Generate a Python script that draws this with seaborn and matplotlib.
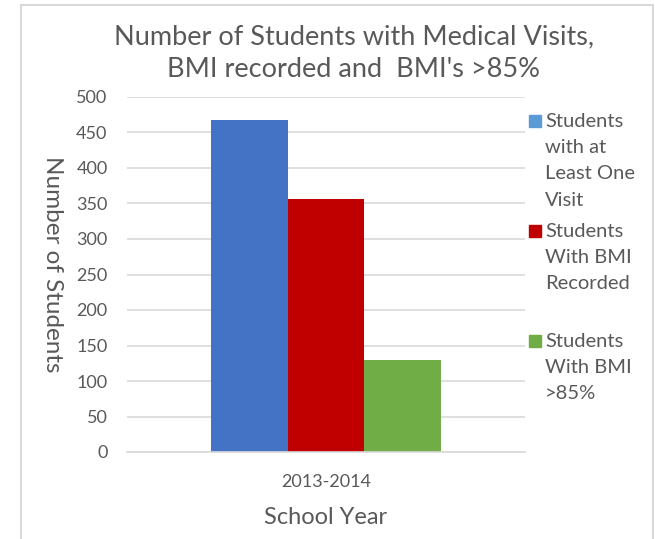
import pandas as pd
import matplotlib.pyplot as plt
import seaborn as sns
from matplotlib.patches import Rectangle

# chart data
school_years = ['2013-2014']
series = ['Students with at Least One Visit',
          'Students With BMI Recorded',
          'Students With BMI >85%']
counts = [468, 356, 130]
legend_labels = ['Students\nwith at\nLeast One\nVisit',
                 'Students\nWith BMI\nRecorded',
                 'Students\nWith BMI\n>85%']
bar_colors = ['#4472C4', '#C00000', '#70AD47']
legend_colors = ['#5B9BD5', '#C00000', '#70AD47']
y_ticks = [0, 50, 100, 150, 200, 250, 300, 350, 400, 450, 500]

df = pd.DataFrame({'year': school_years * len(series),
                   'series': series,
                   'count': counts})

sns.set_theme(style='white')
plt.rcParams['font.family'] = ['Lato', 'DejaVu Sans']
txt = '#595959'
grid = '#D9D9D9'

fig = plt.figure(figsize=(6.55, 5.39), dpi=100)
ax = fig.add_axes([127 / 655, 1 - 452 / 539, 398 / 655, 355 / 539])

sns.barplot(data=df, x='year', y='count', hue='series', palette=bar_colors,
            width=0.58, saturation=1, linewidth=0, ax=ax, legend=False)

ax.set_ylim(0, 500)
ax.set_yticks(y_ticks)
ax.set_xlim(-0.5, 0.5)
ax.yaxis.grid(True, color=grid, linewidth=1.2)
ax.set_axisbelow(True)
for s in ['left', 'right', 'top']:
    ax.spines[s].set_visible(False)
ax.spines['bottom'].set_color(grid)
ax.spines['bottom'].set_linewidth(1.2)
ax.tick_params(axis='both', length=0, labelsize=13, colors=txt)
ax.tick_params(axis='y', pad=14)
ax.tick_params(axis='x', pad=16)
ax.set_xlabel('School Year', fontsize=17, color=txt, labelpad=12)
ax.set_ylabel('')
fig.text(52 / 655, 1 - 264 / 539, 'Number of Students', rotation=270,
         fontsize=17.5, color=txt, ha='center', va='center')

fig.text(354 / 655, 1 - 53 / 539,
         "Number of Students with Medical Visits,\nBMI recorded and  BMI's >85%",
         fontsize=19.5, color=txt, ha='center', va='center', linespacing=1.36)

# legend, Excel style: square aligned with first line of text
for i, (lab, col) in enumerate(zip(legend_labels, legend_colors)):
    y0 = 121 + i * 110
    fig.add_artist(Rectangle((529 / 655, 1 - (y0 + 6) / 539), 12 / 655, 12 / 539,
                             transform=fig.transFigure, color=col))
    fig.text(545 / 655, 1 - (y0 - 8) / 539, lab, fontsize=14.5, color=txt,
             ha='left', va='top', linespacing=1.66)

# chart area border
fig.add_artist(Rectangle((21 / 655, -0.05), 632 / 655, 1.05 - 5 / 539,
                         transform=fig.transFigure, fill=False,
                         edgecolor=grid, linewidth=1.5))

plt.savefig('out.png', dpi=100)
